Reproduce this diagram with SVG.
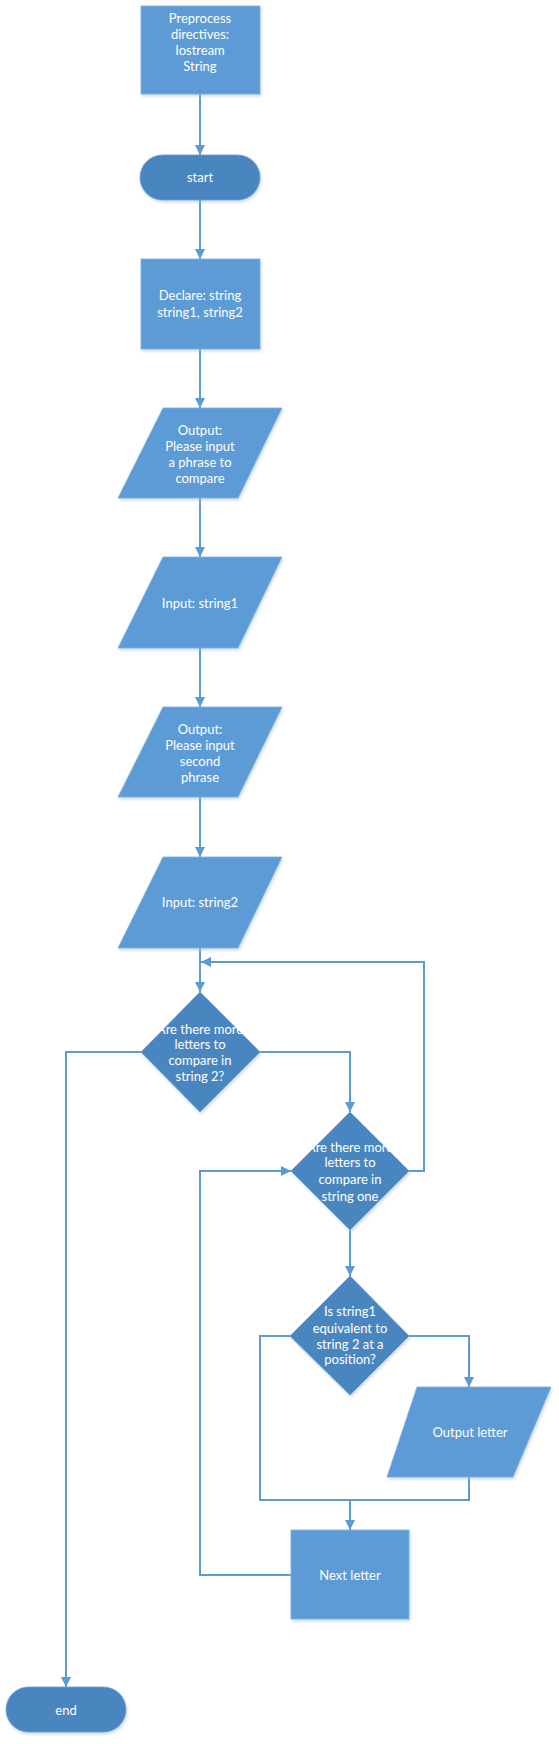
<svg xmlns="http://www.w3.org/2000/svg" width="559" height="1744" viewBox="0 0 559 1744">
<style>
.box{fill:#5B9BD5;stroke:#7FB1E0;stroke-width:0.8;filter:url(#sh)}
.dark{fill:#4A86C0;stroke:#6A9FD2;stroke-width:0.8;filter:url(#sh)}
.t{font-family:Lato,"Liberation Sans",sans-serif;font-size:13px;fill:#FFFFFF;text-anchor:middle}
.c{fill:none;stroke:#5B9BD5;stroke-width:2}
</style>
<defs>
<marker id="ah" markerWidth="10" markerHeight="10" refX="10" refY="5" orient="auto" markerUnits="userSpaceOnUse" viewBox="0 0 10 10">
<path d="M0,0 L10,5 L0,10 Z" fill="#5B9BD5"/>
</marker>
<filter id="sh" x="-10%" y="-10%" width="130%" height="130%">
<feDropShadow dx="1" dy="2" stdDeviation="1.5" flood-color="#9DB8D8" flood-opacity="0.5"/>
</filter>
</defs>
<rect width="559" height="1744" fill="#FFFFFF"/>
<g id="connectors">
<path class="c" d="M200,94 V155" marker-end="url(#ah)"/>
<path class="c" d="M200,200 V259" marker-end="url(#ah)"/>
<path class="c" d="M200,349 V408" marker-end="url(#ah)"/>
<path class="c" d="M200,498 V557" marker-end="url(#ah)"/>
<path class="c" d="M200,648 V707" marker-end="url(#ah)"/>
<path class="c" d="M200,797 V857" marker-end="url(#ah)"/>
<path class="c" d="M200,948 V992" marker-end="url(#ah)"/>
<path class="c" d="M409,1171 H424 V962 H201" marker-end="url(#ah)"/>
<path class="c" d="M141,1052 H66 V1687" marker-end="url(#ah)"/>
<path class="c" d="M260,1052 H350 V1112" marker-end="url(#ah)"/>
<path class="c" d="M350,1230 V1276" marker-end="url(#ah)"/>
<path class="c" d="M290,1336 H260 V1500 H350 V1530" marker-end="url(#ah)"/>
<path class="c" d="M409,1336 H469 V1387" marker-end="url(#ah)"/>
<path class="c" d="M469,1477 V1500 H350"/>
<path class="c" d="M291,1575 H200 V1171 H291" marker-end="url(#ah)"/>
</g>
<g id="preprocess">
<rect class="box" x="141" y="6" width="119" height="88"/>
<text class="t" x="200" y="22.5">Preprocess</text>
<text class="t" x="200" y="38.5">directives:</text>
<text class="t" x="200" y="54.5">Iostream</text>
<text class="t" x="200" y="70.5">String</text>
</g>
<g id="start">
<rect class="dark" x="140" y="155" width="120" height="45" rx="22.5" ry="22.5"/>
<text class="t" x="200" y="182">start</text>
</g>
<g id="declare">
<rect class="box" x="141" y="259" width="119" height="90"/>
<text class="t" x="200" y="300">Declare: string</text>
<text class="t" x="200" y="317">string1, string2</text>
</g>
<g id="output1">
<polygon class="box" points="163,408 282,408 238,498 118,498"/>
<text class="t" x="200" y="434.5">Output:</text>
<text class="t" x="200" y="450.5">Please input</text>
<text class="t" x="200" y="466.5">a phrase to</text>
<text class="t" x="200" y="482.5">compare</text>
</g>
<g id="input1">
<polygon class="box" points="163,557 282,557 238,648 118,648"/>
<text class="t" x="200" y="607.5">Input: string1</text>
</g>
<g id="output2">
<polygon class="box" points="163,707 282,707 238,797 118,797"/>
<text class="t" x="200" y="733.5">Output:</text>
<text class="t" x="200" y="749.5">Please input</text>
<text class="t" x="200" y="765.5">second</text>
<text class="t" x="200" y="782">phrase</text>
</g>
<g id="input2">
<polygon class="box" points="163,857 282,857 238,948 118,948"/>
<text class="t" x="200" y="906.5">Input: string2</text>
</g>
<g id="decision1">
<polygon class="dark" points="200,992 260,1052 200,1112 141,1052"/>
<text class="t" x="200" y="1033.5">Are there more</text>
<text class="t" x="200" y="1048.5">letters to</text>
<text class="t" x="200" y="1064.5">compare in</text>
<text class="t" x="200" y="1080.5">string 2?</text>
</g>
<g id="decision2">
<polygon class="dark" points="350,1112 409,1171 350,1230 291,1171"/>
<text class="t" x="350" y="1151.5">Are there more</text>
<text class="t" x="350" y="1167">letters to</text>
<text class="t" x="350" y="1183.5">compare in</text>
<text class="t" x="350" y="1200.5">string one</text>
</g>
<g id="decision3">
<polygon class="dark" points="350,1276 409,1336 350,1395 290,1336"/>
<text class="t" x="350" y="1316">Is string1</text>
<text class="t" x="350" y="1332.5">equivalent to</text>
<text class="t" x="350" y="1348.5">string 2 at a</text>
<text class="t" x="350" y="1363.5">position?</text>
</g>
<g id="outputletter">
<polygon class="box" points="417,1387 551,1387 513,1477 387,1477"/>
<text class="t" x="470" y="1436.5">Output letter</text>
</g>
<g id="nextletter">
<rect class="box" x="291" y="1530" width="118" height="89"/>
<text class="t" x="350" y="1579.5">Next letter</text>
</g>
<g id="end">
<rect class="dark" x="6" y="1687" width="120" height="45" rx="22.5" ry="22.5"/>
<text class="t" x="66" y="1714.5">end</text>
</g>
</svg>
